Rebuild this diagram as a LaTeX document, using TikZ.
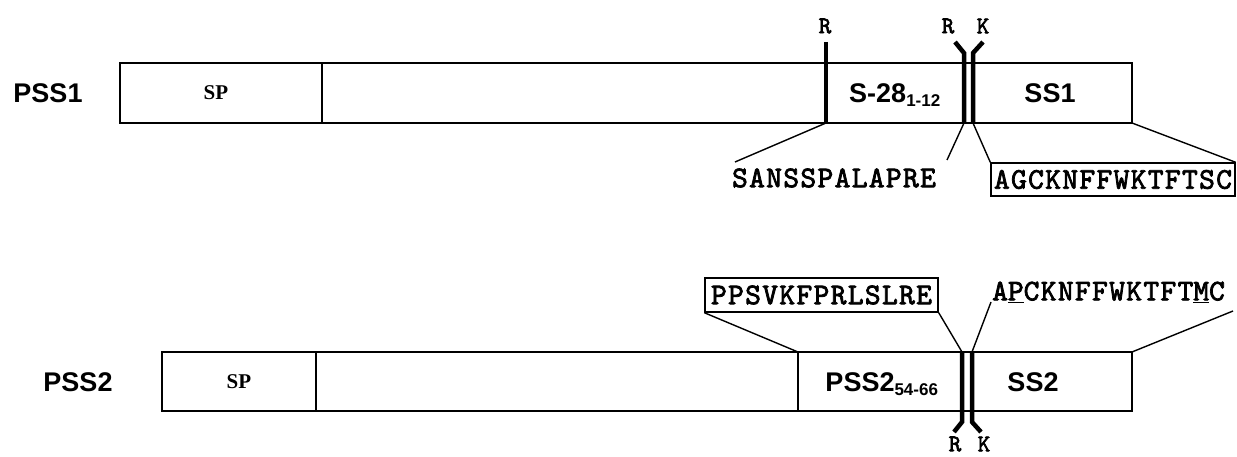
\documentclass[tikz,border=0pt]{standalone}
\usepackage{fontspec}
\setmainfont{Liberation Sans}
\newfontfamily\spfont{Liberation Serif}
\newfontfamily\seqfont{lmmono10-regular.otf}[FakeBold=2.5,LetterSpace=4.5]
\begin{document}
\begin{tikzpicture}[x=1pt,y=-1pt,
  bar/.style={draw=black,line width=1.6pt},
  cut/.style={draw=black,line width=4.5pt,line cap=butt,line join=miter},
  conn/.style={draw=black,line width=1.4pt},
  protname/.style={font=\fontsize{27}{30}\selectfont\bfseries,inner sep=0pt},
  seglabel/.style={font=\fontsize{27}{30}\selectfont\bfseries,inner sep=0pt},
  splabel/.style={font=\spfont\fontsize{21}{23}\selectfont\bfseries,inner sep=0pt},
  seqtext/.style={font=\seqfont\fontsize{30}{32}\selectfont\bfseries,inner sep=0pt},
  seqbox/.style={seqtext,draw=black,line width=1.4pt,inner sep=0pt},
  site/.style={font=\seqfont\fontsize{24}{26}\selectfont\bfseries,inner sep=0pt}]
\useasboundingbox (0,0) rectangle (1237,457);

% ---------- PSS1 ----------
\node[protname] (pss1) at (48,93) {PSS1};
\draw[bar] (120,63) rectangle (1132,123);
\draw[bar] (322,63) -- (322,123);
\node[splabel] (sp1) at (216,93) {SP};
\node[seglabel] (s28) at (895,95) {S-28\textsubscript{\fontsize{17}{18}\selectfont 1-12}};
\node[seglabel] (ss1) at (1050,93) {SS1};

\draw[cut] (826,42) -- (826,123);
\draw[cut] (955,42) -- (964,53) -- (964,123);
\draw[cut] (983,42) -- (973,53) -- (973,123);
\node[site] (r1a) at (825,26) {R};
\node[site] (r1b) at (948,26) {R};
\node[site] (k1) at (983,26) {K};

\coordinate (a1) at (826,123);
\coordinate (a2) at (964,123);
\coordinate (a3) at (973,123);
\coordinate (a4) at (1132,123);
\coordinate (e1) at (735,162);
\coordinate (e2) at (947,160);

\node[seqtext] (seq1) at (834,178) {SANSSPALAPRE};
\node[seqbox,minimum width=244pt,minimum height=33pt] (box1) at (1113,179.5) {AGCKNFFWKTFTSC};

\draw[conn] (a1) -- (e1);
\draw[conn] (a2) -- (e2);
\draw[conn] (a3) -- (box1.north west);
\draw[conn] (a4) -- (box1.north east);

% ---------- PSS2 ----------
\node[protname] (pss2) at (78,382) {PSS2};
\draw[bar] (162,352) rectangle (1132,411);
\draw[bar] (316,352) -- (316,411);
\draw[bar] (798,352) -- (798,411);
\node[splabel] (sp2) at (239,382) {SP};
\node[seglabel] (p2) at (882,384) {PSS2\textsubscript{\fontsize{17}{18}\selectfont 54-66}};
\node[seglabel] (ss2) at (1033,382) {SS2};

\draw[cut] (962,352) -- (962,422) -- (954,432);
\draw[cut] (972,352) -- (972,422) -- (981,432);
\node[site] (r2) at (955,444) {R};
\node[site] (k2) at (984,444) {K};

\coordinate (b1) at (798,352);
\coordinate (b2) at (962,352);
\coordinate (b3) at (972,352);
\coordinate (b4) at (1132,352);
\coordinate (f3) at (991,302);
\coordinate (f4) at (1233,311);

\node[seqbox,minimum width=233pt,minimum height=34pt] (box2) at (821.5,295) {PPSVKFPRLSLRE};
\node[seqtext,anchor=west] (seq2) at (992,292) {A\underline{P}CKNFFWKTFT\underline{M}C};

\draw[conn] (b1) -- (box2.south west);
\draw[conn] (b2) -- (box2.south east);
\draw[conn] (b3) -- (f3);
\draw[conn] (b4) -- (f4);
\end{tikzpicture}
\end{document}
